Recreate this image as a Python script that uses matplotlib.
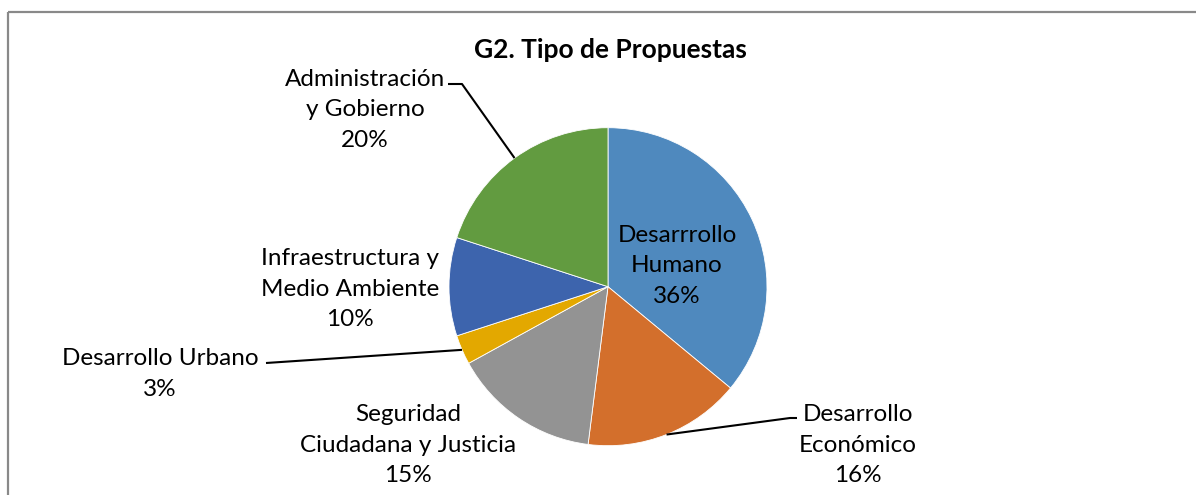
import numpy as np
import matplotlib.pyplot as plt
from matplotlib.patches import Rectangle

plt.rcParams['font.family'] = ['Lato', 'DejaVu Sans']

# Data
categories = ["Desarrrollo\nHumano", "Desarrollo\nEconómico", "Seguridad\nCiudadana y Justicia",
              "Desarrollo Urbano", "Infraestructura y\nMedio Ambiente", "Administración\ny Gobierno"]
values = [36, 16, 15, 3, 10, 20]
colors = ["#4F89BE", "#D36F2C", "#939393", "#E3A800", "#3D64AD", "#629B40"]

W, H = 1196, 495
fig = plt.figure(figsize=(W / 100, H / 100), dpi=100)
ax = fig.add_axes([0, 0, 1, 1])

cx, cy, r = 608, 286.7, 159
# y axis is flipped (pixel coords), so start at -90 and go counterclockwise in data
wedges, _ = ax.pie(values, colors=colors, startangle=-90, counterclock=True,
                   center=(cx, cy), radius=r, frame=True,
                   wedgeprops=dict(edgecolor='white', linewidth=0.6))
ax.set_xlim(0, W)
ax.set_ylim(H, 0)
ax.set_aspect('auto')
ax.axis('off')

# chart border
ax.add_patch(Rectangle((8, 11.7), W, H, fill=False, edgecolor='#898989', linewidth=1.6, zorder=0))

ax.text(cx + 2, 50, "G2. Tipo de Propuestas", ha='center', va='center',
        fontsize=19, fontweight='bold')

pct = [f"{v}%" for v in values]
label_pos = [(677, 266), (858, 445), (408, 445), (160, 374), (350, 289), (365, 110)]
fs = 17.5
for i, (x, y) in enumerate(label_pos):
    ax.text(x, y, categories[i] + "\n" + pct[i], ha='center', va='center',
            fontsize=fs, linespacing=1.56, color='black')

def edge_point(i):
    w = wedges[i]
    mid = np.deg2rad((w.theta1 + w.theta2) / 2)
    return cx + r * np.cos(mid), cy + r * np.sin(mid)

leaders = {
    5: [(462, 84), (448, 84)],
    3: [(266, 363)],
    1: [(790, 418), (797, 418)],
}
for i, pts in leaders.items():
    ex, ey = edge_point(i)
    xs = [ex] + [p[0] for p in pts]
    ys = [ey] + [p[1] for p in pts]
    ax.plot(xs, ys, color='black', linewidth=1.5, solid_capstyle='butt')

fig.savefig("out.png", dpi=100)
